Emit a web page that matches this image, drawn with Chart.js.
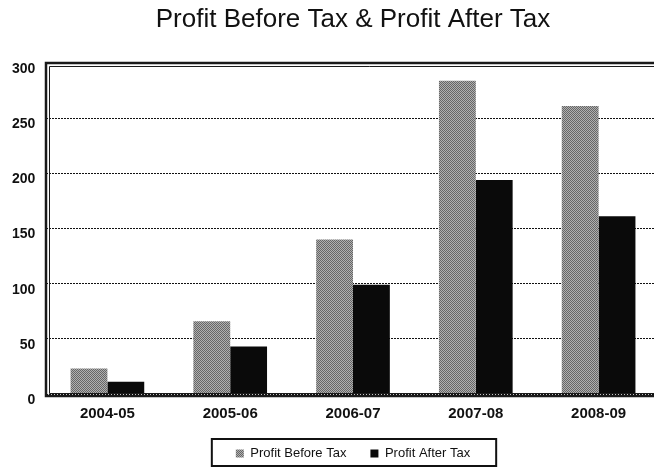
<!DOCTYPE html>
<html>
<head>
<meta charset="utf-8">
<script src="https://cdn.jsdelivr.net/npm/chart.js@4.4.1/dist/chart.umd.min.js"></script>
<style>
  html, body { margin: 0; padding: 0; background: #fff; overflow: hidden; }
  #profitChart { position: absolute; left: 0; top: 0; }
</style>
</head>
<body>
<canvas id="profitChart" width="704" height="470"></canvas>
<script>
// data
var years = ["2004-05", "2005-06", "2006-07", "2007-08", "2008-09"];
var profitBeforeTax = [23, 66, 140, 284, 261];
var profitAfterTax = [11, 43, 99, 194, 161];
var yTicks = [0, 50, 100, 150, 200, 250, 300];

// small dither so the grey bars look a bit like the print
function greyPattern() {
    var c = document.createElement("canvas");
    c.width = 2; c.height = 2;
    var g = c.getContext("2d");
    g.fillStyle = "#b0b0b0"; g.fillRect(0, 0, 2, 2);
    g.fillStyle = "#666"; g.fillRect(0, 0, 1, 1); g.fillRect(1, 1, 1, 1);
    return g.createPattern(c, "repeat");
}
var grey = greyPattern();

var framePlugin = {
    id: "frame",
    afterDraw: function (chart) {
        var ctx = chart.ctx, a = chart.chartArea;
        ctx.save();
        ctx.strokeStyle = "#1a1a1a";
        ctx.lineWidth = 2.5;
        ctx.beginPath();
        ctx.moveTo(a.right + 30, a.top); ctx.lineTo(a.left, a.top);
        ctx.lineTo(a.left, a.bottom + 2); ctx.lineTo(a.right + 30, a.bottom + 2);
        ctx.stroke();
        ctx.lineWidth = 1;
        ctx.beginPath();
        ctx.moveTo(a.right + 30, a.top + 3.5); ctx.lineTo(a.left + 3.5, a.top + 3.5);
        ctx.lineTo(a.left + 3.5, a.bottom - 0.5); ctx.lineTo(a.right + 30, a.bottom - 0.5);
        ctx.stroke();
        // box round the legend
        var boxes = chart.legend.legendHitBoxes;
        if (boxes && boxes.length) {
            var l = boxes[0].left, r = 0, t = boxes[0].top, b = 0;
            boxes.forEach(function (h) {
                l = Math.min(l, h.left); r = Math.max(r, h.left + h.width);
                t = Math.min(t, h.top); b = Math.max(b, h.top + h.height);
            });
            ctx.lineWidth = 2;
            ctx.strokeStyle = "#111";
            ctx.strokeRect(l - 24, t - 8, r - l + 50, b - t + 14);
        }
        ctx.restore();
    }
};

new Chart(document.getElementById("profitChart"), {
    type: "bar",
    data: {
        labels: years,
        datasets: [
            { label: "Profit Before Tax", data: profitBeforeTax, backgroundColor: grey, borderWidth: 0 },
            { label: "Profit After Tax", data: profitAfterTax, backgroundColor: "#0a0a0a", borderWidth: 0 }
        ]
    },
    options: {
        responsive: false,
        animation: false,
        devicePixelRatio: 1,
        layout: { padding: { left: 46, right: 44, top: 0, bottom: 0 } },
        datasets: { bar: { barPercentage: 1, categoryPercentage: 0.6 } },
        scales: {
            x: {
                afterFit: function (axis) { axis.height = 29; },
                grid: { display: false, drawTicks: false },
                border: { display: false },
                ticks: { color: "#111", maxRotation: 0, padding: 11, font: { family: "Liberation Sans", size: 15, weight: "bold" } }
            },
            y: {
                min: 0, max: 300,
                afterFit: function (axis) { axis.width = 0; },
                afterBuildTicks: function (axis) {
                    axis.ticks = yTicks.map(function (v) { return { value: v }; });
                },
                grid: { color: "#111", lineWidth: 1, drawTicks: false },
                border: { display: false, dash: [2, 1] },
                ticks: {
                    // mirrored so the labels are not clipped to the zero-width axis box
                    mirror: true, crossAlign: "far", padding: -34,
                    color: "#111", labelOffset: 6,
                    font: { family: "Liberation Sans", size: 14, weight: "bold" }
                }
            }
        },
        plugins: {
            title: {
                display: true,
                text: "Profit Before Tax & Profit After Tax",
                color: "#111",
                font: { family: "Liberation Sans", size: 26, weight: "normal" },
                padding: { top: 4.4, bottom: 27.4 }
            },
            legend: {
                position: "bottom",
                labels: {
                    color: "#111", boxWidth: 8, boxHeight: 8, padding: 24,
                    font: { family: "Liberation Sans", size: 13 }
                }
            },
            tooltip: { enabled: false }
        }
    },
    plugins: [framePlugin]
});
</script>
</body>
</html>
